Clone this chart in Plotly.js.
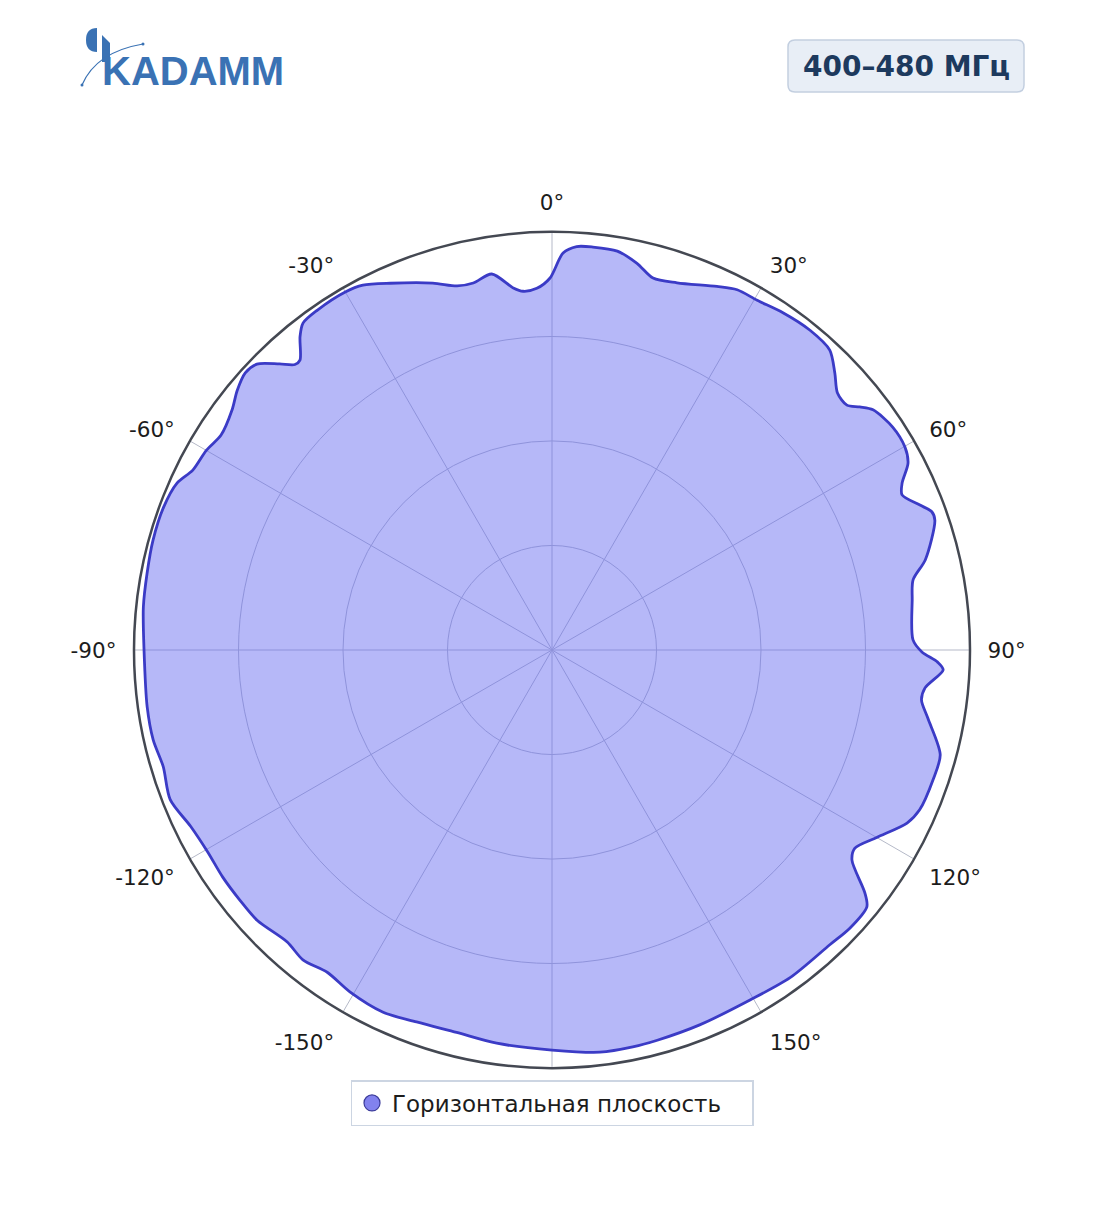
<!DOCTYPE html>
<html>
<head>
<meta charset="utf-8">
<script src="https://cdn.plot.ly/plotly-3.0.1.min.js"></script>
<style>html,body{margin:0;padding:0;background:#fff;}#chart{width:1104px;height:1211px;}</style>
</head>
<body>
<div id="chart"></div>
<script>
// Angles (degrees, clockwise from 0° at top) and normalized gain of the horizontal-plane pattern
const anglesDeg = [-180,-172,-166,-160,-155,-149.4,-145.1,-141.2,-137.8,-132.5,-128.7,-124.6,-120.4,-116,-111.4,-106.7,-102.7,-98,-90,-84,-79.2,-74.6,-69.8,-66,-63.4,-60,-57,-53.1,-50.5,-47.9,-45.9,-43.6,-42,-41,-38.8,-37.3,-34.6,-30,-27.4,-23.8,-18,-14.6,-12.1,-9.1,-6.1,-4.6,-2.4,-0.3,1.6,3.5,5.8,9.3,12.4,15.2,18.8,24.4,27.2,30.4,34.4,38.9,42.8,45.6,48,50.3,51.7,53.2,56.8,60.1,62.3,64.5,66.1,68.5,70,71.3,76.4,79,82.1,88.4,90.3,91.8,92.9,95.8,97.7,100.3,105.1,108.8,113.5,116,120,123.2,125,127.8,129.2,133,136.7,144,150.5,158.5,164.9,168.5,173.2,180];
const gainNorm = [0.957,0.950,0.943,0.947,0.956,0.950,0.940,0.951,0.943,0.957,0.957,0.957,0.955,0.962,0.981,0.971,0.978,0.978,0.976,0.983,0.986,0.990,0.990,0.982,0.961,0.955,0.944,0.957,0.976,0.989,0.983,0.945,0.919,0.919,0.962,0.983,0.988,0.989,0.983,0.959,0.923,0.900,0.898,0.911,0.871,0.861,0.866,0.890,0.950,0.967,0.969,0.967,0.947,0.922,0.928,0.955,0.969,0.970,0.978,0.983,0.978,0.947,0.919,0.917,0.938,0.959,0.974,0.974,0.962,0.928,0.916,0.946,0.967,0.967,0.919,0.880,0.870,0.864,0.885,0.923,0.937,0.897,0.892,0.914,0.962,0.963,0.959,0.945,0.897,0.866,0.876,0.947,0.972,0.975,0.969,0.969,0.962,0.964,0.967,0.969,0.969,0.957];

// 180° label is hidden behind the legend in the reference
const angTickVals = [0,30,60,90,120,150,180,210,240,270,300,330];
const angTickText = ['0°','30°','60°','90°','120°','150°','','-150°','-120°','-90°','-60°','-30°'];
const radialGrid = [0.25,0.5,0.75];
const seriesName = 'Горизонтальная плоскость';
const bandLabel = '400–480 МГц';
const brandName = 'KADAMM';

// layout geometry helpers (pixel -> paper)
const W = 1104, H = 1211, ML = 134, MR = 134, MT = 200, MB = 111;
const PW = W - ML - MR, PH = H - MT - MB;
const fx = x => (x - ML) / PW;
const fy = y => 1 - (y - MT) / PH;

function roundRect(x0, y0, x1, y1, r) {
  const p = (x, y) => fx(x) + ',' + fy(y);
  return 'M' + p(x0 + r, y0) + ' L' + p(x1 - r, y0) + ' Q' + p(x1, y0) + ' ' + p(x1, y0 + r) +
    ' L' + p(x1, y1 - r) + ' Q' + p(x1, y1) + ' ' + p(x1 - r, y1) +
    ' L' + p(x0 + r, y1) + ' Q' + p(x0, y1) + ' ' + p(x0, y1 - r) +
    ' L' + p(x0, y0 + r) + ' Q' + p(x0, y0) + ' ' + p(x0 + r, y0) + ' Z';
}
function pathPx(cmds) {
  return cmds.map(c => typeof c === 'string' ? c : (fx(c[0]) + ',' + fy(c[1]))).join(' ');
}

const logoBlue = '#3a72b4';

const traces = [
  {
    type: 'scatterpolar',
    theta: anglesDeg,
    r: gainNorm,
    mode: 'lines',
    line: {color: '#3b3bc6', width: 2.8, shape: 'spline', smoothing: 0.8},
    fill: 'toself',
    fillcolor: 'rgba(100,104,240,0.47)',
    name: seriesName,
    showlegend: false,
    hoverinfo: 'skip'
  },
  {
    type: 'scatterpolar',
    theta: [null],
    r: [null],
    mode: 'markers',
    marker: {size: 16, color: '#8282ee', line: {color: '#3b3b9a', width: 1.2}},
    name: seriesName,
    showlegend: true
  }
];

const layout = {
  width: W, height: H,
  margin: {l: ML, r: MR, t: MT, b: MB, pad: 0},
  paper_bgcolor: '#ffffff',
  font: {family: 'DejaVu Sans, sans-serif', color: '#1c1c1c'},
  showlegend: true,
  legend: {
    x: 0.5, xanchor: 'center', xref: 'paper',
    y: fy(1080), yanchor: 'top', yref: 'paper',
    bgcolor: '#ffffff', bordercolor: '#ccd5e2', borderwidth: 1.5,
    font: {size: 23, color: '#1c1c1c'},
    orientation: 'h',
    entrywidth: 355
  },
  polar: {
    domain: {x: [0, 1], y: [0, 1]},
    bgcolor: '#ffffff',
    angularaxis: {
      rotation: 90, direction: 'clockwise',
      tickmode: 'array', tickvals: angTickVals, ticktext: angTickText,
      tickfont: {size: 21.5, color: '#1c1c1c'},
      ticks: 'outside', ticklen: 12, tickcolor: 'rgba(0,0,0,0)',
      showline: true, linecolor: '#444852', linewidth: 2.5,
      showgrid: true, gridcolor: '#b5b9c8', gridwidth: 1
    },
    radialaxis: {
      range: [0, 1],
      tickmode: 'array', tickvals: radialGrid,
      showticklabels: false, ticks: '', showline: false,
      showgrid: true, gridcolor: '#b5b9c8', gridwidth: 1
    }
  },
  shapes: [
    // band label box
    {type: 'path', xref: 'paper', yref: 'paper', path: roundRect(788, 40, 1024, 92, 7),
     fillcolor: '#e8eef6', line: {color: '#c3cfe0', width: 1.5}, layer: 'below'},
    // logo: half disc
    {type: 'path', xref: 'paper', yref: 'paper',
     path: pathPx(['M', [97, 28], 'Q', [86, 28], [86, 40], 'Q', [86, 52], [97, 52], 'Z']),
     fillcolor: logoBlue, line: {width: 0}},
    // logo: K stem top
    {type: 'path', xref: 'paper', yref: 'paper',
     path: pathPx(['M', [102, 35], 'L', [110, 43], 'L', [110, 62], 'L', [102, 62], 'Z']),
     fillcolor: logoBlue, line: {width: 0}},
    // logo: swoosh
    {type: 'path', xref: 'paper', yref: 'paper',
     path: pathPx(['M', [82, 85], 'Q', [96, 52], [143, 44]]),
     line: {color: logoBlue, width: 1.2}},
    {type: 'circle', xref: 'paper', yref: 'paper', x0: fx(80.5), x1: fx(83.5), y0: fy(83.5), y1: fy(86.5),
     fillcolor: logoBlue, line: {width: 0}},
    {type: 'circle', xref: 'paper', yref: 'paper', x0: fx(141.5), x1: fx(144.5), y0: fy(42.5), y1: fy(45.5),
     fillcolor: logoBlue, line: {width: 0}}
  ],
  annotations: [
    {xref: 'paper', yref: 'paper', x: fx(906), y: fy(66), xanchor: 'center', yanchor: 'middle',
     text: '<b>' + bandLabel + '</b>', showarrow: false,
     font: {family: 'DejaVu Sans, sans-serif', size: 28, color: '#1d3a5e'}},
    {xref: 'paper', yref: 'paper', x: fx(100), y: fy(71), xanchor: 'left', yanchor: 'middle',
     text: '<b>' + brandName + '</b>', showarrow: false,
     font: {family: 'Liberation Sans, Arial, sans-serif', size: 40, color: logoBlue}}
  ]
};

Plotly.newPlot('chart', traces, layout, {displayModeBar: false, staticPlot: true});
</script>
</body>
</html>
